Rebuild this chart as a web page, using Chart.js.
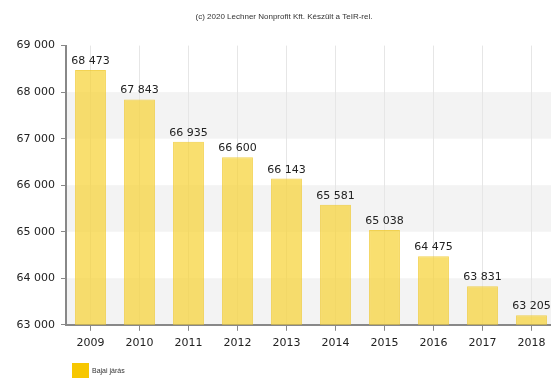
<!DOCTYPE html>
<html>
<head>
<meta charset="utf-8">
<script src="https://cdn.jsdelivr.net/npm/chart.js@4.4.1/dist/chart.umd.min.js"></script>
<style>
  html, body { margin: 0; padding: 0; background: #fff; overflow: hidden; }
  canvas { display: block; }
</style>
</head>
<body>
<canvas id="lakossag" width="556" height="378"></canvas>
<script>
const years = ['2009', '2010', '2011', '2012', '2013', '2014', '2015', '2016', '2017', '2018'];
const population = [68473, 67843, 66935, 66600, 66143, 65581, 65038, 64475, 63831, 63205];
const seriesName = 'Bajai járás';
const yMin = 63000;
const yMax = 69000;
const yStep = 1000;

function fmt(n) {
    return String(n).replace(/\B(?=(\d{3})+(?!\d))/g, ' ');
}

// alternating grey bands behind the bars
const bands = {
    id: 'bands',
    beforeDraw(chart) {
        const {ctx, chartArea, scales: {y}} = chart;
        ctx.save();
        ctx.fillStyle = '#f3f3f3';
        for (let v = yMin; v < yMax; v += yStep) {
            if (((v - yMin) / yStep) % 2 === 0) {
                const top = y.getPixelForValue(v + yStep);
                const bottom = y.getPixelForValue(v);
                ctx.fillRect(chartArea.left, top, chartArea.right - chartArea.left, bottom - top);
            }
        }
        ctx.restore();
    }
};

// value above every bar
const valueLabels = {
    id: 'valueLabels',
    afterDatasetsDraw(chart) {
        const {ctx} = chart;
        const meta = chart.getDatasetMeta(0);
        ctx.save();
        ctx.font = '11px "DejaVu Sans"';
        ctx.fillStyle = '#222';
        ctx.textAlign = 'center';
        ctx.textBaseline = 'alphabetic';
        meta.data.forEach((bar, i) => {
            ctx.fillText(fmt(chart.data.datasets[0].data[i]), bar.x, bar.y - 6);
        });
        ctx.restore();
    }
};

// small legend in the bottom left corner
const cornerLegend = {
    id: 'cornerLegend',
    afterDraw(chart) {
        const {ctx} = chart;
        ctx.save();
        ctx.fillStyle = '#f7c700';
        ctx.fillRect(72, 363, 17, 17);
        ctx.font = '7px "Liberation Sans"';
        ctx.fillStyle = '#333';
        ctx.textBaseline = 'middle';
        ctx.fillText(chart.data.datasets[0].label, 92, 371);
        ctx.restore();
    }
};

new Chart(document.getElementById('lakossag'), {
    type: 'bar',
    data: {
        labels: years,
        datasets: [{
            label: seriesName,
            data: population,
            backgroundColor: 'rgba(246, 210, 50, 0.7)',
            borderColor: 'rgba(240, 200, 40, 0.8)',
            borderWidth: 1,
            barPercentage: 0.63,
            categoryPercentage: 1
        }]
    },
    options: {
        responsive: false,
        animation: false,
        layout: { padding: { left: 12, right: 0, top: 0, bottom: 22 } },
        plugins: {
            legend: { display: false },
            tooltip: { enabled: false },
            title: {
                display: true,
                text: '(c) 2020 Lechner Nonprofit Kft. Készült a TeIR-rel.',
                color: '#333',
                font: { family: 'Liberation Sans', size: 8, weight: 'normal' },
                padding: { top: 12, bottom: 24 }
            }
        },
        scales: {
            x: {
                grid: { offset: false, color: '#e6e6e6', tickLength: 6, tickColor: '#888' },
                border: { color: '#888', width: 2 },
                ticks: { color: '#222', padding: 6, font: { family: 'DejaVu Sans', size: 11 } }
            },
            y: {
                min: yMin,
                max: yMax,
                afterFit(scale) { scale.width = 54; },
                grid: { drawOnChartArea: false, tickLength: 5, tickColor: '#888' },
                border: { color: '#888', width: 2 },
                ticks: {
                    stepSize: yStep,
                    color: '#222',
                    padding: 6,
                    font: { family: 'DejaVu Sans', size: 11 },
                    callback: v => fmt(v)
                }
            }
        }
    },
    plugins: [bands, valueLabels, cornerLegend]
});
</script>
</body>
</html>
